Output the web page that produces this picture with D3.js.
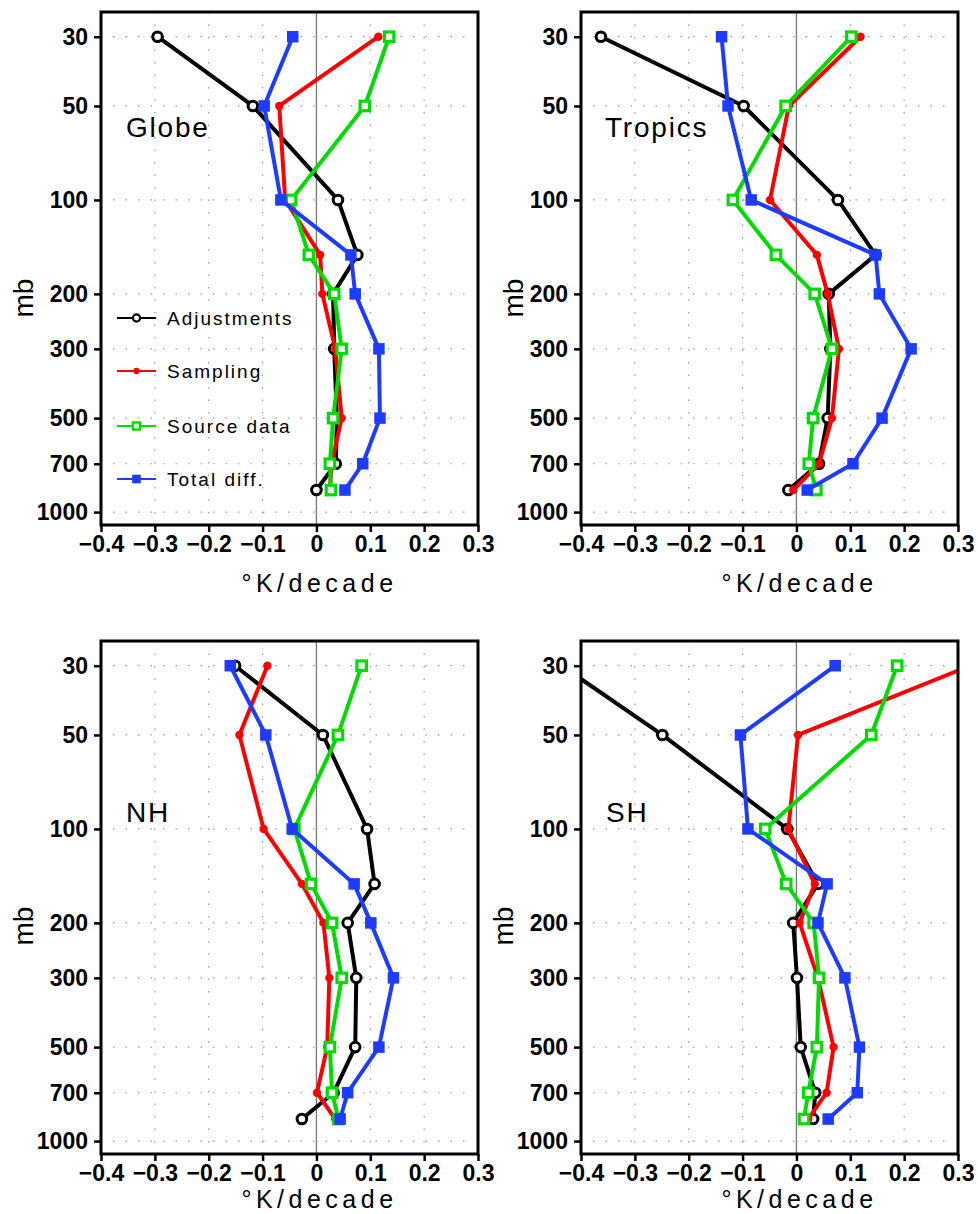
<!DOCTYPE html>
<html>
<head>
<meta charset="utf-8">
<script src="https://cdn.jsdelivr.net/npm/d3@7"></script>
<style>
  body { margin: 0; background: #fff; }
  text { font-family: "Liberation Sans", Arial, sans-serif; }
</style>
</head>
<body>
<div id="chart"></div>
<script>
// pressure levels (mb) and axis ticks
var levels = [30, 50, 100, 150, 200, 300, 500, 700, 850]
var yTicks = [30, 50, 100, 200, 300, 500, 700, 1000]
var xTicks = [-0.4, -0.3, -0.2, -0.1, 0, 0.1, 0.2, 0.3]
var seriesNames = ["Adjustments", "Sampling", "Source data", "Total diff."]
var panelNames = ["Globe", "Tropics", "NH", "SH"]

// trends, K/decade, one value per level
var globeAdj = [-0.295, -0.118, 0.040, 0.076, 0.031, 0.033, 0.038, 0.036, 0.000]
var globeSamp = [0.115, -0.069, -0.058, 0.007, 0.011, 0.035, 0.047, 0.028, 0.025]
var globeSrc = [0.135, 0.090, -0.047, -0.014, 0.033, 0.047, 0.031, 0.025, 0.027]
var globeTot = [-0.044, -0.097, -0.066, 0.064, 0.072, 0.116, 0.118, 0.086, 0.053]

var tropAdj = [-0.363, -0.098, 0.077, 0.147, 0.060, 0.063, 0.058, 0.042, -0.015]
var tropSamp = [0.119, -0.014, -0.049, 0.038, 0.058, 0.079, 0.066, 0.042, -0.006]
var tropSrc = [0.102, -0.020, -0.118, -0.038, 0.034, 0.066, 0.031, 0.023, 0.037]
var tropTot = [-0.139, -0.127, -0.084, 0.147, 0.154, 0.213, 0.159, 0.105, 0.020]

var nhAdj = [-0.151, 0.012, 0.094, 0.108, 0.058, 0.074, 0.072, 0.032, -0.027]
var nhSamp = [-0.091, -0.143, -0.098, -0.027, 0.013, 0.024, 0.020, 0.001, 0.035]
var nhSrc = [0.084, 0.040, -0.041, -0.010, 0.029, 0.047, 0.025, 0.029, 0.041]
var nhTot = [-0.160, -0.094, -0.045, 0.070, 0.101, 0.143, 0.116, 0.058, 0.044]

var shAdj = [-0.436, -0.249, -0.017, 0.040, -0.006, 0.001, 0.008, 0.035, 0.031]
var shSamp = [0.323, 0.003, -0.015, 0.034, 0.006, 0.040, 0.069, 0.056, 0.022]
var shSrc = [0.187, 0.139, -0.058, -0.019, 0.032, 0.042, 0.038, 0.022, 0.014]
var shTot = [0.072, -0.104, -0.090, 0.057, 0.040, 0.090, 0.117, 0.113, 0.059]

var panelData = [
    [globeAdj, globeSamp, globeSrc, globeTot],
    [tropAdj, tropSamp, tropSrc, tropTot],
    [nhAdj, nhSamp, nhSrc, nhTot],
    [shAdj, shSamp, shSrc, shTot]
]

var colors = ["#000000", "#ff0000", "#00dc00", "#1e3cff"]
var marks = ["ocircle", "circle", "osquare", "square"]

// frame positions of the 4 panels
var frames = [
    {left: 101, top: 12, titleY: 592, mbX: 24, nameX: 126, nameY: 137},
    {left: 581, top: 12, titleY: 592, mbX: 514, nameX: 605, nameY: 137},
    {left: 101, top: 641, titleY: 1208, mbX: 24, nameX: 126, nameY: 822},
    {left: 581, top: 641, titleY: 1208, mbX: 504, nameX: 606, nameY: 822}
]
var fw = 377, fh = 513

const svg = d3.select("#chart").append("svg")
    .attr("width", 978)
    .attr("height", 1214)

function drawMark(g, type, cx, cy, color, small) {
    var s = small ? 0.75 : 1
    if (type == "ocircle") {
        g.append("circle").attr("cx", cx).attr("cy", cy).attr("r", 4.8 * s)
            .attr("fill", "#fff").attr("stroke", color).attr("stroke-width", 3 * s)
    } else if (type == "circle") {
        g.append("circle").attr("cx", cx).attr("cy", cy).attr("r", 4.2 * s)
            .attr("fill", color)
    } else if (type == "osquare") {
        var a = 9.5 * s
        g.append("rect").attr("x", cx - a / 2).attr("y", cy - a / 2)
            .attr("width", a).attr("height", a)
            .attr("fill", "#fff").attr("stroke", color).attr("stroke-width", 3.2 * s)
    } else {
        var b = 11.5 * s
        g.append("rect").attr("x", cx - b / 2).attr("y", cy - b / 2)
            .attr("width", b).attr("height", b).attr("fill", color)
    }
}

frames.forEach(function (f, pi) {
    const g = svg.append("g").attr("transform", "translate(" + f.left + "," + f.top + ")")

    const x = d3.scaleLinear().domain([-0.4, 0.3]).range([0, fw])
    const y = d3.scaleLog().domain([25, 1100]).range([0, fh])

    // dotted grid
    g.selectAll(".vgrid").data(xTicks.slice(1, -1).filter(function (d) { return d != 0 }))
        .enter().append("line")
        .attr("x1", function (d) { return x(d) }).attr("x2", function (d) { return x(d) })
        .attr("y1", 0).attr("y2", fh)
        .attr("stroke", "#9a9a9a").attr("stroke-width", 1.2)
        .attr("stroke-dasharray", "1.5,11")
    g.selectAll(".hgrid").data(yTicks).enter().append("line")
        .attr("x1", 12).attr("x2", fw - 8)
        .attr("y1", function (d) { return y(d) }).attr("y2", function (d) { return y(d) })
        .attr("stroke", "#9a9a9a").attr("stroke-width", 1.2)
        .attr("stroke-dasharray", "1.5,11")

    // zero line
    g.append("line").attr("x1", x(0)).attr("x2", x(0)).attr("y1", 0).attr("y2", fh)
        .attr("stroke", "#777").attr("stroke-width", 1.3)

    // clip
    g.append("clipPath").attr("id", "clip" + pi).append("rect")
        .attr("width", fw).attr("height", fh)
    const plot = g.append("g").attr("clip-path", "url(#clip" + pi + ")")

    const line = d3.line()
        .x(function (d) { return x(d[0]) })
        .y(function (d) { return y(d[1]) })

    panelData[pi].forEach(function (vals, si) {
        var pts = vals.map(function (v, i) { return [v, levels[i]] })
        plot.append("path")
            .datum(pts)
            .attr("fill", "none")
            .attr("stroke", colors[si])
            .attr("stroke-width", 4)
            .attr("stroke-linejoin", "round")
            .attr("d", line)
        pts.forEach(function (p) {
            drawMark(plot, marks[si], x(p[0]), y(p[1]), colors[si], false)
        })
    })

    // frame
    g.append("rect").attr("width", fw).attr("height", fh)
        .attr("fill", "none").attr("stroke", "#000").attr("stroke-width", 3)

    // axes
    const xAxis = g.append("g").attr("transform", "translate(0," + fh + ")")
        .call(d3.axisBottom(x).tickValues(xTicks).tickSize(7).tickPadding(4)
            .tickFormat(function (d) { return d == 0 ? "0" : d3.format(".1f")(d).replace("-", "\u2212") }))
    const yAxis = g.append("g")
        .call(d3.axisLeft(y).tickValues(yTicks).tickSize(7).tickPadding(6)
            .tickFormat(d3.format("d")))
    ;[xAxis, yAxis].forEach(function (ax) {
        ax.select(".domain").remove()
        ax.selectAll(".tick line").attr("stroke", "#000").attr("stroke-width", 2.5)
        ax.selectAll("text").attr("font-size", 23).attr("font-weight", "bold")
            .attr("fill", "#000").style("font-family", "'Liberation Sans', Arial, sans-serif")
    })

    // titles
    svg.append("text").attr("x", f.left + fw / 2 + 30).attr("y", f.titleY)
        .attr("text-anchor", "middle").attr("font-size", 25)
        .attr("letter-spacing", 4.5)
        .text("\u00B0K/decade")
    svg.append("text")
        .attr("transform", "translate(" + (f.mbX + 9) + "," + (pi < 2 ? 298 : 926) + ") rotate(-90)")
        .attr("text-anchor", "middle").attr("font-size", 28)
        .text("mb")
    svg.append("text").attr("x", f.nameX).attr("y", f.nameY)
        .attr("font-size", 28).attr("letter-spacing", 1.8)
        .text(panelNames[pi])
})

// legend in the Globe panel
var legY = [318, 371, 426, 479]
seriesNames.forEach(function (name, si) {
    var lg = svg.append("g")
    lg.append("line").attr("x1", 117).attr("x2", 156)
        .attr("y1", legY[si]).attr("y2", legY[si])
        .attr("stroke", colors[si]).attr("stroke-width", 2.2)
    drawMark(lg, marks[si], 136.5, legY[si], colors[si], true)
    lg.append("text").attr("x", 167).attr("y", legY[si])
        .attr("dominant-baseline", "central")
        .attr("font-size", 19).attr("letter-spacing", 2)
        .text(name)
})
</script>
</body>
</html>
